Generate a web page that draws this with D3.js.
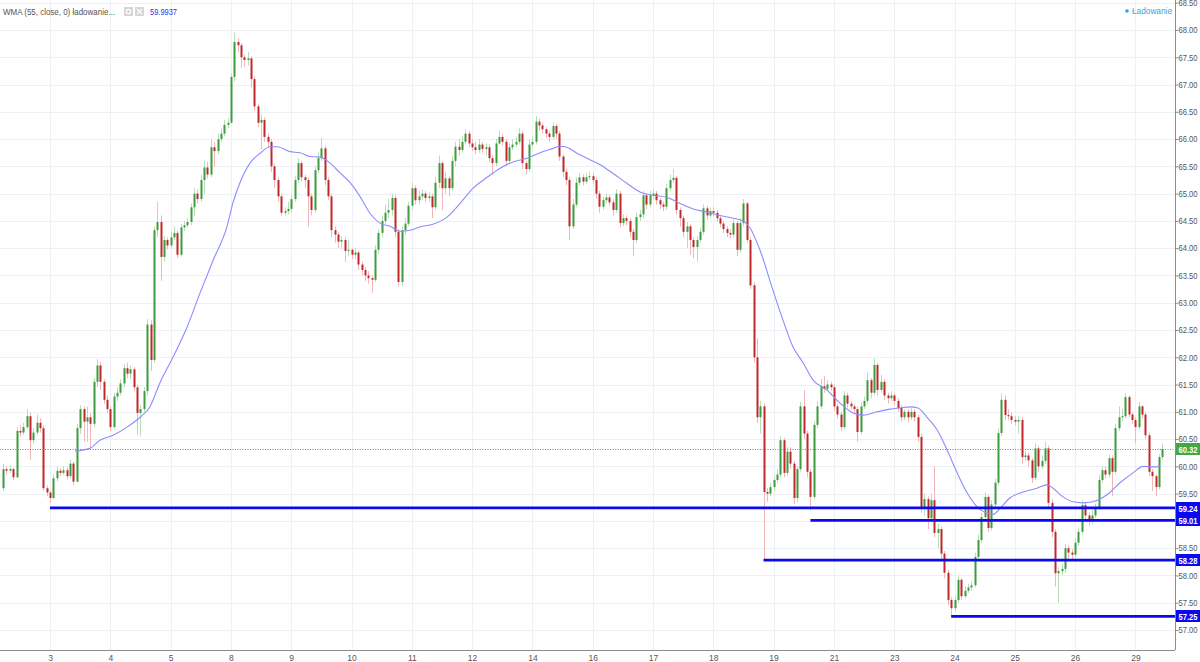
<!DOCTYPE html>
<html><head><meta charset="utf-8">
<script src="https://cdn.jsdelivr.net/npm/d3@7"></script>
<style>
body{margin:0;background:#fff;}
svg{display:block;font-family:"Liberation Sans",Arial,sans-serif;}
</style>
</head><body>
<svg id="chart" width="1200" height="662"></svg>
<script>
// ---------- DATA ----------
const dayLabels = ["3","4","5","8","9","10","11","12","14","16","17","18","19","21","23","24","25","26","29"];
const dayStartIndex = [14,32,50,68,86,104,122,140,158,176,194,212,230,248,266,284,302,320,338];
const yTickValues = [57,57.5,58,58.5,59,59.5,60,60.5,61,61.5,62,62.5,63,63.5,64,64.5,65,65.5,66,66.5,67,67.5,68,68.5];
const firstOpen = 59.60;
const closes = [
59.95,59.92,59.95,59.80,60.65,60.62,60.72,60.92,60.48,60.62,60.80,60.70,59.60,59.52,
59.42,59.78,59.92,59.88,59.93,59.82,60.05,59.72,60.70,61.05,60.82,60.90,60.78,61.55,61.85,61.55,61.22,61.05,
60.72,61.28,61.35,61.52,61.80,61.70,61.78,61.45,60.98,61.05,61.38,62.60,61.95,64.33,64.48,63.84,64.15,64.05,
64.2,64.28,63.88,64.38,64.42,64.48,64.75,65.0,64.9,65.25,65.48,65.35,65.85,65.78,66.0,66.1,66.26,66.3,
67.14,67.78,67.72,67.5,67.45,67.48,67.1,66.6,66.3,66.35,66.04,65.95,65.5,65.25,64.95,64.65,64.68,64.72,
64.9,65.25,65.56,65.3,65.25,64.95,64.7,65.43,65.65,65.83,65.25,64.95,64.33,64.25,64.12,64.15,63.95,63.97,
63.88,63.92,63.7,63.6,63.5,63.45,63.42,63.97,64.28,64.5,64.65,64.7,64.92,64.3,63.38,64.33,64.45,64.78,
65.1,64.88,64.95,65.0,64.92,64.95,64.75,65.2,65.56,65.1,65.28,65.1,65.6,65.86,65.8,65.95,66.1,65.92,
65.85,65.8,65.9,65.82,65.85,65.65,65.56,65.92,66.04,65.95,65.6,65.85,65.9,65.95,66.1,65.56,65.45,65.9,
65.95,66.32,66.25,66.18,66.1,66.04,66.24,66.1,65.68,65.4,65.25,64.4,64.8,65.2,65.3,65.22,65.3,65.32,
65.25,65.0,64.76,64.88,64.93,64.84,64.7,65.0,64.46,64.55,64.5,64.3,64.15,64.57,64.62,64.97,64.8,64.97,
65.0,64.88,64.8,64.76,65.1,65.25,65.29,64.7,64.55,64.3,64.4,64.15,64.02,64.15,64.3,64.73,64.6,64.68,
64.65,64.55,64.45,64.35,64.28,64.25,64.46,63.97,64.46,64.82,64.15,63.32,62.0,60.9,61.1,59.53,59.5,59.62,
59.75,59.85,60.48,59.88,60.27,60.05,59.42,59.95,61.1,60.6,59.9,59.44,60.76,61.1,61.47,61.42,61.5,61.45,
61.1,60.95,60.72,61.3,61.15,61.1,61.05,60.63,61.1,61.2,61.58,61.35,61.86,61.4,61.55,61.3,61.25,61.3,
61.2,61.07,60.9,61.0,60.9,61.0,60.9,60.54,59.24,59.4,59.05,59.38,58.78,58.85,58.4,58.05,57.55,57.4,
57.55,57.92,57.62,57.72,57.78,57.82,58.34,58.65,59.07,59.44,58.87,59.3,59.7,60.61,61.22,60.94,60.92,60.85,
60.82,60.85,60.17,60.2,60.11,59.79,60.33,60.0,60.1,60.33,59.33,58.8,58.04,58.08,58.12,58.5,58.42,58.38,
58.6,58.8,59.29,59.1,59.0,59.1,59.25,59.75,59.93,59.85,60.15,59.9,60.7,60.9,60.92,61.27,60.95,60.85,
60.72,61.1,60.95,60.57,59.9,59.82,59.62,60.17,60.32];
const highs = [
60.05,60.0,60.02,59.98,60.72,60.75,60.8,61.05,60.98,60.7,60.95,60.88,60.75,59.65,
59.56,59.85,60.0,59.97,60.0,59.98,60.12,60.08,60.78,61.12,61.1,61.1,60.98,61.62,61.97,61.92,61.6,61.3,
61.1,61.35,61.45,61.6,61.88,61.9,61.85,61.82,61.5,61.12,61.45,62.7,62.68,64.4,64.85,64.6,64.22,64.2,
64.3,64.4,64.32,64.45,64.5,64.55,64.82,65.1,65.08,65.35,65.6,65.58,66.0,65.95,66.1,66.2,66.35,66.38,
67.2,67.96,67.85,67.76,67.55,67.6,67.52,67.15,66.65,66.45,66.4,66.1,66.0,65.55,65.3,65.0,64.75,64.85,
64.98,65.32,65.65,65.6,65.35,65.3,65.0,65.5,65.75,66.02,65.88,65.3,65.0,64.4,64.3,64.22,64.2,64.15,
64.0,64.0,63.95,63.75,63.65,63.58,63.5,64.05,64.35,64.6,64.8,64.9,65.0,64.98,64.35,64.4,64.55,64.85,
65.2,65.15,65.05,65.08,65.05,65.02,65.0,65.3,65.7,65.6,65.4,65.32,65.7,65.95,66.0,66.05,66.18,66.15,
66.0,65.95,66.0,65.95,65.92,65.9,65.7,66.0,66.15,66.1,66.0,65.92,66.0,66.05,66.2,66.15,65.6,66.0,
66.05,66.42,66.38,66.3,66.22,66.15,66.3,66.28,66.15,65.72,65.45,65.3,64.9,65.3,65.38,65.35,65.38,65.4,
65.38,65.3,65.05,64.95,65.0,64.98,64.9,65.08,65.05,64.62,64.6,64.55,64.35,64.65,64.7,65.05,65.0,65.05,
65.08,65.05,64.92,64.85,65.18,65.35,65.45,65.32,64.75,64.6,64.48,64.45,64.2,64.22,64.38,64.8,64.78,64.75,
64.75,64.7,64.6,64.5,64.4,64.35,64.52,64.5,64.55,64.9,64.85,64.2,63.38,62.35,61.2,61.15,59.6,59.7,
59.82,59.95,60.55,60.52,60.35,60.35,60.1,60.0,61.18,61.4,60.65,59.95,60.82,61.2,61.6,61.65,61.58,61.55,
61.5,61.15,61.0,61.38,61.35,61.2,61.15,61.1,61.18,61.28,61.72,61.62,61.98,61.9,61.68,61.6,61.35,61.38,
61.35,61.25,61.12,61.05,61.05,61.08,61.05,60.95,60.6,59.5,59.45,59.5,60.0,58.95,58.9,58.45,58.1,57.6,
57.62,58.0,57.95,57.8,57.85,57.9,58.42,58.75,59.15,59.52,59.48,59.38,59.78,60.7,61.34,61.3,61.05,60.98,
60.92,60.92,60.9,60.28,60.25,60.15,60.42,60.38,60.2,60.45,60.38,59.4,58.85,58.15,58.2,58.58,58.55,58.48,
58.68,58.88,59.38,59.35,59.15,59.2,59.32,59.85,60.0,60.0,60.22,60.2,60.78,61.1,61.05,61.34,61.3,61.0,
60.9,61.18,61.12,61.0,60.62,59.95,59.85,60.22,60.42];
const lows = [
59.55,59.85,59.88,59.75,59.78,60.55,60.58,60.68,60.12,60.42,60.58,60.62,59.55,59.45,
59.33,59.4,59.72,59.82,59.84,59.76,59.78,59.66,59.7,60.6,60.45,60.45,60.35,60.72,61.45,61.4,61.15,60.98,
60.65,60.68,61.2,61.3,61.45,61.62,61.6,61.38,60.58,60.55,61.0,61.3,61.75,61.9,64.2,63.4,63.75,63.98,
64.0,64.15,63.82,63.85,64.32,64.38,64.42,64.6,64.82,64.85,65.0,65.28,65.3,65.5,65.72,65.95,66.05,66.2,
66.28,67.05,67.6,67.3,67.32,67.35,66.95,66.52,66.22,65.8,65.95,65.85,65.4,65.1,64.85,64.6,64.6,64.62,
64.65,64.85,65.2,65.22,65.1,64.4,64.6,64.65,65.38,65.6,65.15,64.88,64.2,64.1,64.0,63.98,63.75,63.85,
63.8,63.8,63.6,63.5,63.4,63.35,63.18,63.38,63.9,64.2,64.45,64.55,64.6,64.2,63.3,63.3,64.25,64.4,
64.7,64.8,64.8,64.88,64.85,64.85,64.55,64.7,65.1,64.7,65.0,64.95,65.05,65.5,65.7,65.75,65.9,65.85,
65.78,65.72,65.75,65.75,65.7,65.58,65.35,65.5,65.9,65.88,65.5,65.55,65.8,65.85,65.9,65.45,65.35,65.4,
65.85,65.9,66.15,66.1,66.02,65.95,66.0,66.0,65.6,65.3,65.15,64.15,64.35,64.75,65.15,65.15,65.18,65.25,
65.18,64.9,64.65,64.7,64.82,64.78,64.6,64.65,64.38,64.4,64.42,64.2,63.85,64.1,64.5,64.55,64.72,64.75,
64.9,64.8,64.72,64.68,64.7,65.05,65.2,64.62,64.4,64.2,64.0,63.88,63.82,63.75,64.1,64.25,64.52,64.55,
64.58,64.48,64.38,64.28,64.2,64.18,64.2,63.85,63.92,64.4,64.1,63.25,61.9,60.8,60.6,58.28,59.35,59.45,
59.55,59.7,59.8,59.8,59.82,59.95,59.3,59.35,59.9,60.5,59.8,59.2,59.4,60.7,61.05,61.35,61.38,61.38,
61.02,60.88,60.65,60.68,61.08,61.05,60.98,60.45,60.58,61.05,61.15,61.25,61.3,61.3,61.35,61.22,61.15,61.2,
61.12,61.0,60.82,60.85,60.8,60.85,60.82,60.45,59.15,59.1,58.85,59.0,58.7,58.5,58.3,57.95,57.45,57.27,
57.35,57.5,57.55,57.58,57.68,57.72,57.78,58.3,58.6,59.0,58.8,58.82,59.25,59.65,60.55,60.85,60.85,60.78,
60.75,60.6,60.05,60.1,60.0,59.7,59.75,59.9,59.95,60.05,59.25,58.7,57.8,57.5,58.0,58.05,58.3,58.28,
58.32,58.55,58.75,59.0,58.92,58.95,59.05,59.2,59.7,59.78,59.8,59.45,59.85,60.65,60.82,60.88,60.9,60.78,
60.42,60.68,60.88,60.5,59.82,59.55,59.45,59.58,60.12];
// WMA(55), at candle positions
const wmaIdx = [21.5,25.9,28.9,32.8,37.0,40.9,43.8,46.8,50.7,54.9,58.8,62.7,66.8,68.6,70.7,73.7,76.7,79.7,81.8,85.6,88.6,91.6,94.6,97.6,100.6,103.6,106.6,109.5,112.5,115.5,118.5,121.5,124.4,128.3,132.5,136.4,140.3,144.5,148.5,152.2,156.4,160.3,164.2,166.2,168.3,171.3,175.2,178.2,182.1,186.2,190.1,194.0,198.2,202.1,206.0,210.1,214.0,217.9,220.9,223.0,225.9,229.8,232.8,235.8,238.8,241.8,245.9,249.8,253.7,256.7,260.9,264.8,267.7,270.7,273.1,275.8,278.8,281.8,284.8,287.8,290.7,293.7,295.5,297.6,300.5,304.5,308.6,311.6,313.4,316.4,319.4,322.3,325.3,329.5,333.4,337.3,340.3,343.3,345.3];
const wmaVal = [60.28,60.33,60.48,60.57,60.72,60.9,61.09,61.53,62.0,62.55,63.18,63.78,64.39,64.83,65.2,65.56,65.74,65.86,65.86,65.77,65.75,65.68,65.67,65.56,65.38,65.2,64.94,64.64,64.46,64.4,64.31,64.33,64.39,64.44,64.57,64.82,65.1,65.3,65.47,65.58,65.65,65.75,65.83,65.87,65.85,65.74,65.62,65.53,65.37,65.19,65.03,64.97,64.93,64.82,64.72,64.66,64.6,64.55,64.5,64.37,63.97,63.23,62.68,62.19,61.9,61.58,61.4,61.16,60.98,60.94,61.0,61.05,61.07,61.09,61.07,60.9,60.67,60.3,59.88,59.51,59.26,59.14,59.12,59.23,59.42,59.53,59.6,59.66,59.6,59.44,59.35,59.33,59.35,59.48,59.7,59.88,60.0,59.99,60.0];
const levelPrices = [59.24, 59.01, 58.28, 57.25];
const levelStartIndex = [14, 241, 227, 283];
const lastPrice = 60.32;
const legendText = "WMA (55, close, 0) ładowanie...";
const legendValue = "59.9937";
const statusText = "Ładowanie";

// ---------- LAYOUT ----------
const W = 1200, H = 662;
const plotRight = 1175, plotBottom = 650;
const svg = d3.select("#chart");
const FONT = '"Liberation Sans",Arial,sans-serif';
const NARROW = '"Liberation Sans Narrow","Liberation Sans",Arial,sans-serif';

const x = d3.scaleLinear().domain([14, 338]).range([50, 1135.4]);
const y = d3.scaleLinear().domain([57, 68]).range([630, 30]);

const GRID = "#edf1f6";
const AXIS = "#8c8c8c";
const TXT = "#555";
const UP = "#3d9c3d", DOWN = "#c0292c";
const UPW = "#b9dcb9", DOWNW = "#efb7b7";
const BLUE = "#0a0aef";
const LASTC = "#43a843";

svg.append("rect").attr("width", W).attr("height", H).attr("fill", "#fff");
svg.append("defs").append("clipPath").attr("id", "clip")
  .append("rect").attr("x", 0).attr("y", 0).attr("width", plotRight).attr("height", plotBottom);

// grid
const grid = svg.append("g");
grid.selectAll("line.h").data(yTickValues).join("line")
  .attr("x1", 0).attr("x2", plotRight)
  .attr("y1", d => Math.round(y(d)) + 0.5).attr("y2", d => Math.round(y(d)) + 0.5)
  .attr("stroke", GRID).attr("stroke-width", 1);
grid.selectAll("line.v").data(dayStartIndex).join("line")
  .attr("x1", d => Math.round(x(d)) + 0.5).attr("x2", d => Math.round(x(d)) + 0.5)
  .attr("y1", 0).attr("y2", plotBottom)
  .attr("stroke", GRID).attr("stroke-width", 1);

const plot = svg.append("g").attr("clip-path", "url(#clip)");

// candles
const candles = closes.map((c, i) => ({
  i, o: i === 0 ? firstOpen : closes[i - 1], c, h: highs[i], l: lows[i]
}));
const cg = plot.append("g");
cg.selectAll("line.w").data(candles).join("line")
  .attr("x1", d => Math.round(x(d.i)) + 0.5).attr("x2", d => Math.round(x(d.i)) + 0.5)
  .attr("y1", d => y(d.h)).attr("y2", d => y(d.l))
  .attr("stroke", d => d.c >= d.o ? UPW : DOWNW).attr("stroke-width", 1);
cg.selectAll("rect.b").data(candles).join("rect")
  .attr("x", d => Math.round(x(d.i)) - 0.5)
  .attr("width", 2)
  .attr("y", d => y(Math.max(d.o, d.c)))
  .attr("height", d => Math.max(1, Math.abs(y(d.o) - y(d.c))))
  .attr("fill", d => d.c >= d.o ? UP : DOWN);

// WMA line
const wmaPts = wmaIdx.map((v, k) => [v, wmaVal[k]]);
plot.append("path").datum(wmaPts)
  .attr("d", d3.line().x(d => x(d[0])).y(d => y(d[1])).curve(d3.curveMonotoneX))
  .attr("fill", "none").attr("stroke", "#8c8cff").attr("stroke-width", 1.1);

// last price dotted line
plot.append("line")
  .attr("x1", 0).attr("x2", plotRight)
  .attr("y1", Math.round(y(lastPrice)) + 0.5).attr("y2", Math.round(y(lastPrice)) + 0.5)
  .attr("stroke", LASTC).attr("stroke-width", 1).attr("stroke-dasharray", "1,1.5");

// support levels
plot.selectAll("line.lvl").data(levelPrices).join("line")
  .attr("x1", (d, k) => x(levelStartIndex[k])).attr("x2", plotRight)
  .attr("y1", d => y(d)).attr("y2", d => y(d))
  .attr("stroke", BLUE).attr("stroke-width", 2.8);

// axes
const yAxisG = svg.append("g").attr("transform", `translate(${plotRight + 0.5},0)`)
  .call(d3.axisRight(y).tickValues(yTickValues).tickFormat(d3.format(".2f")).tickSize(3).tickPadding(0));
yAxisG.select(".domain").attr("stroke", AXIS).attr("d", `M0,0V${plotBottom}`);
yAxisG.selectAll(".tick line").attr("stroke", AXIS);
yAxisG.selectAll(".tick text").attr("fill", TXT).attr("font-size", 8.5).attr("font-family", NARROW)
  .attr("textLength", 19).attr("lengthAdjust", "spacingAndGlyphs");

const xAxisG = svg.append("g").attr("transform", `translate(0,${plotBottom + 0.5})`)
  .call(d3.axisBottom(x).tickValues(dayStartIndex).tickFormat((d, k) => dayLabels[k]).tickSize(0).tickPadding(4));
xAxisG.select(".domain").attr("stroke", AXIS).attr("d", `M0,0H${plotRight}`);
xAxisG.selectAll(".tick text").attr("fill", TXT).attr("font-size", 8.5).attr("font-family", FONT);

// price labels on axis
function axisLabel(price, fill) {
  const g = svg.append("g");
  const yy = Math.round(y(price));
  g.append("rect").attr("x", plotRight + 1).attr("y", yy - 6).attr("width", 24).attr("height", 12).attr("fill", fill);
  g.append("text").attr("x", plotRight + 3.5).attr("y", yy + 3.5)
    .attr("fill", "#fff").attr("font-size", 8.5).attr("font-weight", "bold").attr("font-family", NARROW)
    .attr("textLength", 19).attr("lengthAdjust", "spacingAndGlyphs")
    .text(d3.format(".2f")(price));
}
levelPrices.forEach(p => axisLabel(p, BLUE));
axisLabel(lastPrice, LASTC);

// legend
const lg = svg.append("g");
lg.append("text").attr("x", 3).attr("y", 15).attr("fill", "#555").attr("font-size", 9)
  .attr("textLength", 112).attr("lengthAdjust", "spacingAndGlyphs").text(legendText);
lg.append("rect").attr("x", 124).attr("y", 7).attr("width", 9).attr("height", 9).attr("fill", "#d6d6d6");
lg.append("circle").attr("cx", 128.5).attr("cy", 11.5).attr("r", 2.2).attr("fill", "none").attr("stroke", "#fff").attr("stroke-width", 1.2);
lg.append("rect").attr("x", 135).attr("y", 7).attr("width", 9).attr("height", 9).attr("fill", "#d6d6d6");
lg.append("path").attr("d", "M137,9L142,14M142,9L137,14").attr("stroke", "#fff").attr("stroke-width", 1.2);
lg.append("text").attr("x", 150).attr("y", 15).attr("fill", "#3030e0").attr("font-size", 9)
  .attr("textLength", 27).attr("lengthAdjust", "spacingAndGlyphs").text(legendValue);

const st = svg.append("g");
st.append("circle").attr("cx", 1127).attr("cy", 11).attr("r", 1.8).attr("fill", "#2ea6df");
st.append("text").attr("x", 1132).attr("y", 14).attr("fill", "#2ea6df").attr("font-size", 9)
  .attr("textLength", 40).attr("lengthAdjust", "spacingAndGlyphs").text(statusText);
</script>
</body></html>
